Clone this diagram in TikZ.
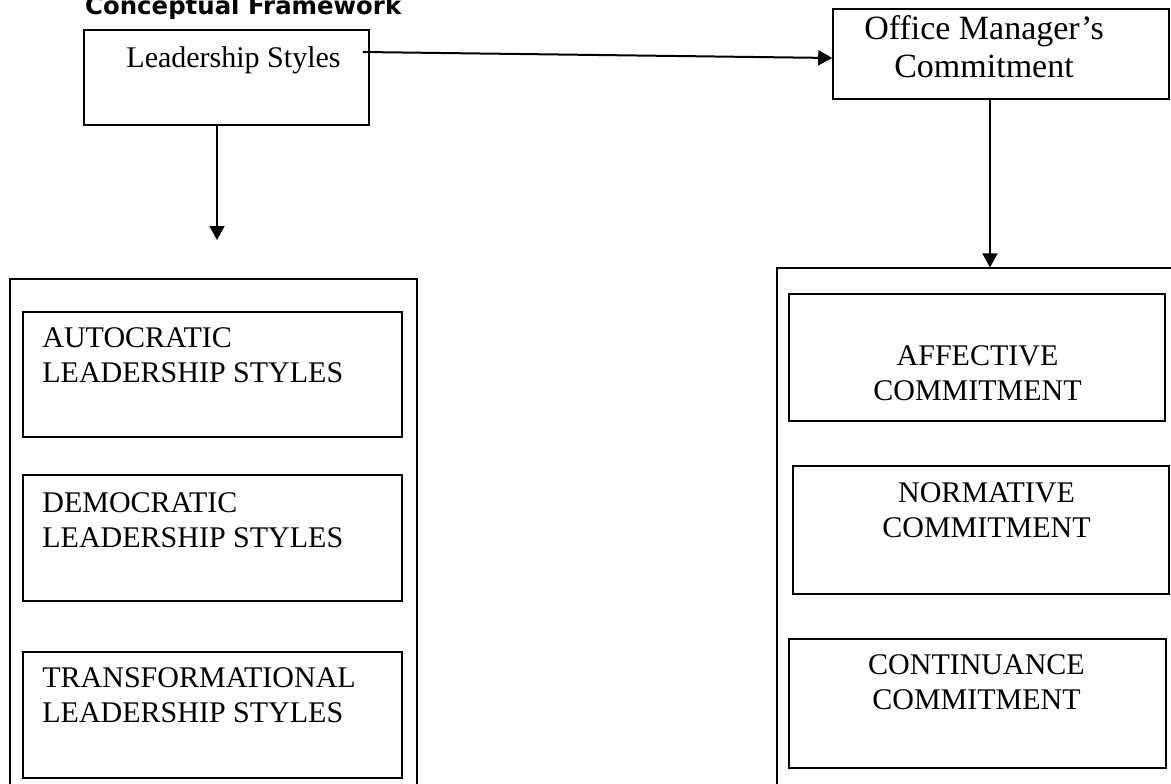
\documentclass[tikz,border=0pt]{standalone}
\usepackage{fontspec}
\setmainfont{Liberation Serif}
\newfontfamily\titlefont{DejaVu Sans}
\usetikzlibrary{arrows.meta,calc,positioning}

\tikzset{
  frame/.style={draw, line width=1.6pt, inner sep=0pt},
  outerframe/.style={draw, line width=1.2pt, inner sep=0pt},
  boxtext/.style={font=\fontsize{30}{35}\selectfont, inner sep=0pt, align=left},
  arr/.style={-{Triangle[width=15pt,length=14pt]}, line width=2pt},
}

\begin{document}
\begin{tikzpicture}[x=1pt,y=-1pt]
    \useasboundingbox (0,0) rectangle (1171,784);
    \node[anchor=base west, inner sep=0pt, font=\titlefont\bfseries\fontsize{24.4}{28}\selectfont] (title) at (85,15) {Conceptual Framework};

    % top boxes
    \node[frame, minimum width=285, minimum height=95] (ls) at (226.5,77.5) {};
    \node[boxtext, anchor=base] (lstext) at ($(ls.north)+(7,38)$) {Leadership Styles};
    \node[frame, minimum width=336, minimum height=90] (omc) at (1001,54) {};
    \node[boxtext, align=center, anchor=base, font=\fontsize{34}{38}\selectfont] (omctext) at ($(omc.north)+(-17,69)$) {Office Manager’s\\Commitment};

    % left column
    \node[outerframe, minimum width=407, minimum height=521] (lout) at (213.5,539.5) {};
    \node[frame, minimum width=379, minimum height=125] (auto) at (212.5,374.5) {};
    \node[frame, minimum width=379, minimum height=126] (demo) at (212.5,538) {};
    \node[frame, minimum width=379, minimum height=126] (trans) at (212.5,715) {};
    \node[boxtext, anchor=base west] (autotext) at ($(auto.north west)+(20,71)$) {AUTOCRATIC\\LEADERSHIP STYLES};
    \node[boxtext, anchor=base west] (demotext) at ($(demo.north west)+(20,73)$) {DEMOCRATIC\\LEADERSHIP STYLES};
    \node[boxtext, anchor=base west] (transtext) at ($(trans.north west)+(20,71)$) {TRANSFORMATIONAL\\LEADERSHIP STYLES};

    % right column
    \node[outerframe, minimum width=403, minimum height=532] (rout) at (978.5,534) {};
    \node[frame, minimum width=376, minimum height=127] (aff) at (977,357.5) {};
    \node[frame, minimum width=376, minimum height=128] (norm) at (981,530) {};
    \node[frame, minimum width=377, minimum height=129] (cont) at (977.5,703.5) {};
    \node[boxtext, align=center, anchor=base] (afftext) at ($(aff.north)+(0.5,107)$) {AFFECTIVE\\COMMITMENT};
    \node[boxtext, align=center, anchor=base] (normtext) at ($(norm.north)+(5.5,72)$) {NORMATIVE\\COMMITMENT};
    \node[boxtext, align=center, anchor=base] (conttext) at ($(cont.north)+(-1,71)$) {CONTINUANCE\\COMMITMENT};

    % arrows
    \coordinate (lsdown) at (217,240);
    \draw[arr] ([xshift=-7pt,yshift=25.5pt]ls.east) -- ([yshift=-4pt]omc.west);
    \draw[arr] (ls.south -| lsdown) -- (lsdown);
    \draw[arr] ([xshift=-11pt]omc.south) -- ([xshift=-11pt]omc.south |- rout.north);
\end{tikzpicture}
\end{document}
